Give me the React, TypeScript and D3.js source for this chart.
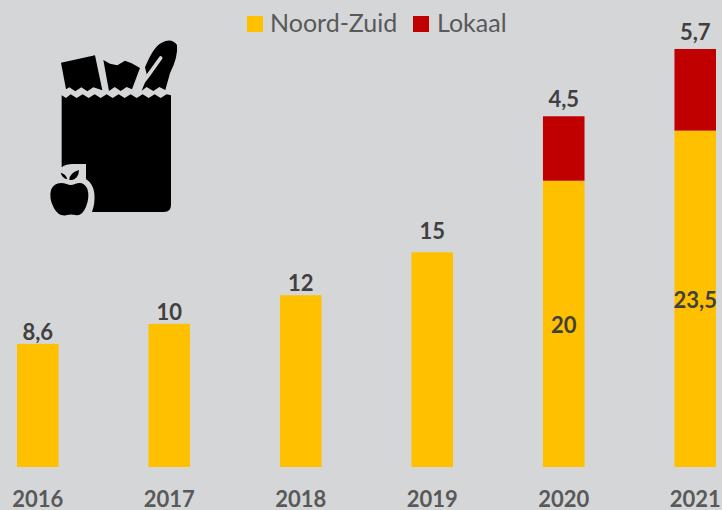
import React from "react";
import * as d3 from "d3";

const years = ["2016", "2017", "2018", "2019", "2020", "2021"];
const noordZuid = [8.6, 10, 12, 15, 20, 23.5];
const lokaal = [0, 0, 0, 0, 4.5, 5.7];
const noordLabels = ["", "", "", "", "20", "23,5"];
const topLabels = ["8,6", "10", "12", "15", "4,5", "5,7"];
const legendItems = ["Noord-Zuid", "Lokaal"];

const W = 722, H = 510;
const COLORS = { nz: "#ffc000", lok: "#c00000", bg: "#d5d6d8", label: "#404040", axis: "#595959", legend: "#595959" };
const FONT = "Lato, 'Open Sans', sans-serif";
const labelGaps = [4, 4, 4, 13, 9, 9];

const x = d3.scaleBand<string>().domain(years).range([17, 716]).paddingInner(0.684).paddingOuter(0);
const y = d3.scaleLinear().domain([0, 29.2]).range([467, 49]);

const bagPath = "M95 196 L108 204 L122 193 L140 204 L158 193 L176 204 L194 193 L212 204 L230 193 L248 204 L266 193 L284 204 L302 193 L320 204 L338 193 L356 204 L374 193 L392 204 L410 193 L423 196 L423 525 Q423 546 402 546 L186 546 Q196 520 193 490 Q190 462 168 447 L168 402 L128 402 Q108 402 95 412 Z";
const boxPath = "M93 98 L195 76 L217 181 L190 172 L172 184 L154 172 L136 184 L118 172 L108 178 Z";
const bagItemPath = "M220 90 L240 101 L262 106 L285 92 L305 100 L330 114 L306 178 L290 171 L272 183 L254 171 L237 183 Z";
const breadPath = "M345 112 Q370 50 395 38 Q425 22 441 45 Q445 80 420 130 L406 180 L388 171 L370 183 L350 171 L335 182 L352 140 Z";
const slitPath = "M392 84 L352 140 L318 182";
const applePath = "M110 462 Q122 468 135 462 Q160 452 172 476 Q180 500 168 530 Q156 560 136 555 Q122 551 108 556 Q86 560 72 535 Q56 505 63 480 Q75 452 110 462 Z";
const leafPath = "M118 450 Q117 430 147 420 Q146 445 126 450 Z M112 448 Q108 432 92 428 Q96 444 112 448 Z";

export default function App() {
  const bw = x.bandwidth();
  return (
    <svg width={W} height={H} viewBox={`0 0 ${W} ${H}`} style={{ position: "absolute", left: 0, top: 0, background: COLORS.bg, fontFamily: FONT }}>
      {years.map((yr, i) => {
        const bx = x(yr)!;
        const top = y(noordZuid[i] + lokaal[i]);
        return (
          <g key={yr}>
            <rect x={bx} width={bw} y={y(noordZuid[i])} height={y(0) - y(noordZuid[i])} fill={COLORS.nz} />
            {lokaal[i] > 0 && (
              <rect x={bx} width={bw} y={top} height={y(noordZuid[i]) - top} fill={COLORS.lok} />
            )}
            <text x={bx + bw / 2} y={top - labelGaps[i]} textAnchor="middle" fontSize={22} fontWeight={700} fill={COLORS.label}>{topLabels[i]}</text>
            {noordLabels[i] && (
              <text x={bx + bw / 2} y={y(noordZuid[i] / 2) + 9} textAnchor="middle" fontSize={22} fontWeight={700} fill={COLORS.label}>{noordLabels[i]}</text>
            )}
            <text x={bx + bw / 2} y={507} textAnchor="middle" fontSize={22} fontWeight={700} fill={COLORS.axis}>{yr}</text>
          </g>
        );
      })}
      <g>
        <rect x={247} y={16} width={16} height={16} fill={COLORS.nz} />
        <text x={270} y={32} fontSize={25} fill={COLORS.legend}>{legendItems[0]}</text>
        <rect x={413} y={16} width={16} height={16} fill={COLORS.lok} />
        <text x={437} y={32} fontSize={25} fill={COLORS.legend}>{legendItems[1]}</text>
      </g>
      <g transform="translate(30,30) scale(0.3333)" fill="#000">
        <path d={bagPath} />
        <path d={boxPath} />
        <path d={bagItemPath} />
        <path d={breadPath} />
        <path d={slitPath} fill="none" stroke={COLORS.bg} strokeWidth={11} strokeLinecap="round" />
        <path d={applePath} />
        <path d={leafPath} />
      </g>
    </svg>
  );
}
